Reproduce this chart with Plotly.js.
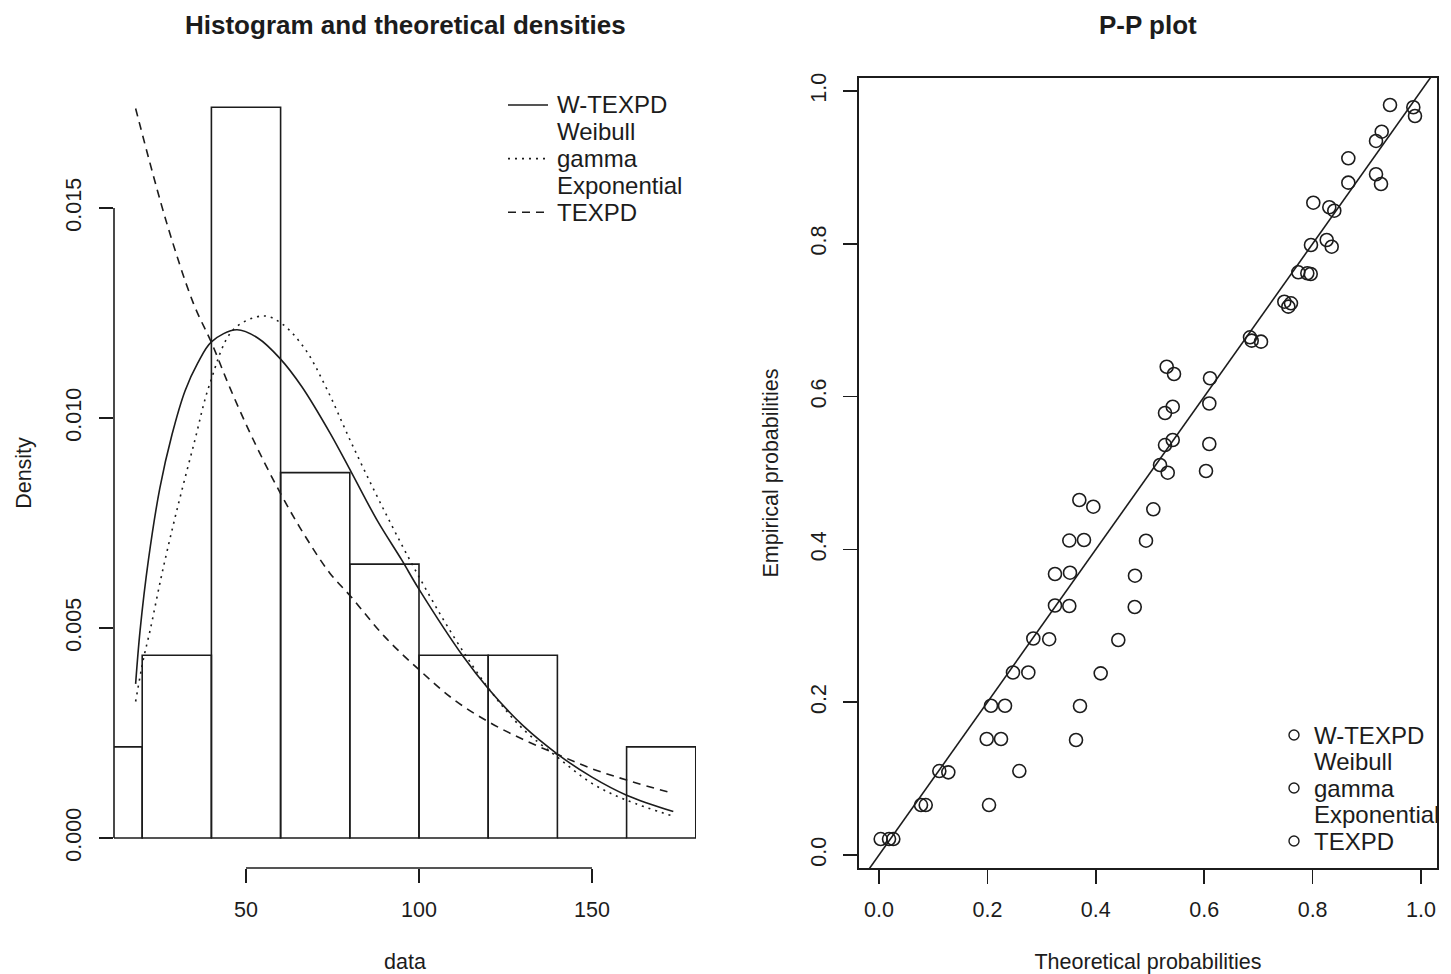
<!DOCTYPE html>
<html>
<head>
<meta charset="utf-8">
<script src="https://cdn.plot.ly/plotly-3.0.1.min.js"></script>
<style>html,body{margin:0;padding:0;background:#fff}#chart{width:1451px;height:974px}</style>
</head>
<body>
<div id="chart"></div>
<script>
// ---------------- data ----------------
// histogram (bin width 20)
const binMids = [10, 30, 50, 70, 90, 110, 130, 150, 170];
const binWidth = 20;
const binDensity = [0.00217, 0.00435, 0.0174, 0.0087, 0.00652, 0.00435, 0.00435, 0, 0.00217];

// fitted densities
const wtexpdX = [18.1, 19.4, 21.8, 25.1, 28.6, 32.4, 36.0, 40.1, 47.3, 53.5, 59.8, 66.1, 74.3, 80.5, 88.0, 95.0, 99.8, 112.8, 120.0, 130.0, 140.3, 150.0, 160.0, 173.5];
const wtexpdY = [0.00367, 0.00495, 0.00662, 0.00833, 0.00960, 0.01065, 0.0113, 0.01182, 0.01210, 0.01190, 0.01142, 0.01075, 0.00964, 0.0087, 0.00755, 0.00662, 0.00595, 0.00432, 0.00356, 0.00268, 0.00198, 0.00145, 0.00102, 0.00063];

const gammaX = [18.1, 20.3, 22.3, 25.1, 26.6, 30.0, 35.0, 39.6, 46.3, 55.0, 60.3, 67.0, 73.3, 80.5, 88.7, 98.4, 110.0, 120.5, 130.0, 139.8, 150.0, 160.0, 173.5];
const gammaY = [0.00325, 0.00424, 0.00495, 0.00606, 0.00662, 0.0078, 0.0094, 0.01083, 0.0121, 0.01243, 0.01225, 0.01165, 0.0107, 0.0094, 0.0080, 0.00646, 0.0048, 0.00352, 0.0026, 0.00194, 0.0013, 0.0009, 0.00052];

const texpdX = [18.1, 27.1, 34.8, 40.1, 45.4, 52.0, 60.0, 67.0, 74.3, 80.3, 90.0, 100.1, 110.0, 120.0, 130.0, 140.3, 150.0, 160.0, 173.5];
const texpdY = [0.01737, 0.01464, 0.01273, 0.01178, 0.01071, 0.0095, 0.0082, 0.0072, 0.0063, 0.00575, 0.0048, 0.004, 0.0033, 0.00277, 0.00235, 0.00198, 0.00165, 0.00138, 0.00106];

// P-P plot points (theoretical, empirical)
const ppWtexpdX = [0.0031, 0.0775, 0.1113, 0.1987, 0.2066, 0.2472, 0.2847, 0.3247, 0.3247, 0.3511, 0.3696, 0.5185, 0.5277, 0.5277, 0.5308, 0.6876, 0.7552, 0.7902, 0.8260, 0.8308, 0.9170, 0.9170, 0.9858];
const ppWtexpdY = [0.0209, 0.0654, 0.1099, 0.1518, 0.1954, 0.2389, 0.2834, 0.3266, 0.3678, 0.4116, 0.4647, 0.5105, 0.5366, 0.5785, 0.6391, 0.6732, 0.7177, 0.7614, 0.8050, 0.8478, 0.8910, 0.9346, 0.9787];
const ppGammaX = [0.0185, 0.0862, 0.1279, 0.2251, 0.2325, 0.2755, 0.3140, 0.3511, 0.3524, 0.3782, 0.3954, 0.5327, 0.5419, 0.5419, 0.5443, 0.7048, 0.7601, 0.7965, 0.8352, 0.8400, 0.9262, 0.9275, 0.9889];
const ppGammaY = [0.0209, 0.0654, 0.1082, 0.1518, 0.1954, 0.2389, 0.2825, 0.3259, 0.3695, 0.4123, 0.4559, 0.5004, 0.5432, 0.5868, 0.6296, 0.6719, 0.7221, 0.7605, 0.7962, 0.8433, 0.8783, 0.9467, 0.9673];
const ppTexpdX = [0.0264, 0.2030, 0.2589, 0.3635, 0.3708, 0.4090, 0.4415, 0.4718, 0.4723, 0.4926, 0.5061, 0.6033, 0.6094, 0.6094, 0.6107, 0.6845, 0.7478, 0.7736, 0.7970, 0.8013, 0.8659, 0.8659, 0.9428];
const ppTexpdY = [0.0209, 0.0654, 0.1099, 0.1505, 0.1950, 0.2378, 0.2814, 0.3246, 0.3656, 0.4114, 0.4525, 0.5026, 0.5380, 0.5910, 0.6240, 0.6776, 0.7242, 0.7627, 0.7984, 0.8538, 0.8800, 0.9119, 0.9817];
const refLine = [-0.1, 1.1];

// ticks & labels
const histTicksX = [50, 100, 150];
const histTicksY = [0, 0.005, 0.010, 0.015];
const ppTicks = [0, 0.2, 0.4, 0.6, 0.8, 1.0];
const legendLabels = ['W-TEXPD', 'Weibull', 'gamma', 'Exponential', 'TEXPD'];
const legendDrawn = [true, false, true, false, true];
const legendDash = ['solid', null, '2px,5px', null, '8px,6px'];
const titles = ['Histogram and theoretical densities', 'P-P plot'];

// ---------------- styling ----------------
const FONT = '"Liberation Sans", Arial, Helvetica, sans-serif';
const INK = '#1c1c1c';
const LW = 1.6;
const LEGFS = 24;
const W = 1451, H = 974, ML = 114, MR = 14, MT = 78, MB = 106;
const PW = W - ML - MR, PH = H - MT - MB;
const px2x = p => (p - ML) / PW;
const py2y = p => (H - MB - p) / PH;

const traces = [
  {type: 'bar', x: binMids, y: binDensity, width: binWidth, xaxis: 'x', yaxis: 'y',
   marker: {color: 'rgba(0,0,0,0)', line: {color: INK, width: LW}}, hoverinfo: 'skip'},
  {type: 'scatter', mode: 'lines', x: wtexpdX, y: wtexpdY, name: legendLabels[0], xaxis: 'x', yaxis: 'y',
   line: {color: INK, width: LW, shape: 'spline', smoothing: 1}},
  {type: 'scatter', mode: 'lines', x: gammaX, y: gammaY, name: legendLabels[2], xaxis: 'x', yaxis: 'y',
   line: {color: INK, width: LW, dash: legendDash[2], shape: 'spline', smoothing: 1}},
  {type: 'scatter', mode: 'lines', x: texpdX, y: texpdY, name: legendLabels[4], xaxis: 'x', yaxis: 'y',
   line: {color: INK, width: LW, dash: legendDash[4], shape: 'spline', smoothing: 1}},
  {type: 'scatter', mode: 'lines', x: refLine, y: refLine, xaxis: 'x2', yaxis: 'y2',
   line: {color: INK, width: LW}, hoverinfo: 'skip'},
];
const ppSets = [[ppWtexpdX, ppWtexpdY, legendLabels[0]], [ppGammaX, ppGammaY, legendLabels[2]], [ppTexpdX, ppTexpdY, legendLabels[4]]];
ppSets.forEach(([x, y, n]) => traces.push({
  type: 'scatter', mode: 'markers', x: x, y: y, name: n, xaxis: 'x2', yaxis: 'y2', cliponaxis: false,
  marker: {symbol: 'circle-open', size: 13, color: INK, line: {color: INK, width: LW}}
}));

const axBase = {
  showgrid: false, zeroline: false, ticks: 'outside', ticklen: 14, tickwidth: LW, tickcolor: INK,
  tickfont: {family: FONT, size: 21.5, color: INK}, fixedrange: true
};

const shapes = [];
const annotations = [];

// R-style axis lines (only from first to last tick) for the histogram panel
shapes.push({type: 'line', xref: 'x', yref: 'paper', x0: histTicksX[0], x1: histTicksX[histTicksX.length - 1], y0: 0, y1: 0, line: {color: INK, width: LW}});
shapes.push({type: 'line', xref: 'paper', yref: 'y', x0: 0, x1: 0, y0: histTicksY[0], y1: histTicksY[histTicksY.length - 1], line: {color: INK, width: LW}});

// titles
annotations.push({xref: 'x domain', yref: 'paper', x: 0.5, y: 1, yanchor: 'middle', yshift: 53, showarrow: false,
  text: '<b>' + titles[0] + '</b>', font: {family: FONT, size: 26, color: INK}});
annotations.push({xref: 'x2 domain', yref: 'paper', x: 0.5, y: 1, yanchor: 'middle', yshift: 53, showarrow: false,
  text: '<b>' + titles[1] + '</b>', font: {family: FONT, size: 26, color: INK}});

// legends
legendLabels.forEach((lab, i) => {
  const yL = 105 + i * 26.8;
  if (legendDrawn[i]) {
    shapes.push({type: 'line', xref: 'paper', yref: 'paper', x0: px2x(508), x1: px2x(548), y0: py2y(yL), y1: py2y(yL),
      line: {color: INK, width: LW, dash: legendDash[i]}});
  }
  annotations.push({xref: 'paper', yref: 'paper', x: px2x(555), y: py2y(yL), xanchor: 'left', yanchor: 'middle',
    showarrow: false, text: lab, font: {family: FONT, size: LEGFS, color: INK}});
  const yR = 735 + i * 26.5;
  if (legendDrawn[i]) {
    shapes.push({type: 'circle', xref: 'paper', yref: 'paper', xsizemode: 'pixel', ysizemode: 'pixel',
      xanchor: px2x(1294), yanchor: py2y(yR), x0: -5, x1: 5, y0: -5, y1: 5, line: {color: INK, width: LW - 0.2}});
  }
  annotations.push({xref: 'paper', yref: 'paper', x: px2x(1312), y: py2y(yR), xanchor: 'left', yanchor: 'middle',
    showarrow: false, text: lab, font: {family: FONT, size: LEGFS, color: INK}});
});

const layout = {
  width: W, height: H, margin: {l: ML, r: MR, t: MT, b: MB, pad: 0},
  paper_bgcolor: '#fff', plot_bgcolor: '#fff', showlegend: false, hovermode: false,
  font: {family: FONT, size: 21.5, color: INK},
  xaxis: Object.assign({}, axBase, {domain: [0, px2x(696)], anchor: 'y', range: [11.85, 180.06],
    tickvals: histTicksX, ticklabelstandoff: 8, showline: false,
    title: {text: 'data', standoff: 39, font: {family: FONT, size: 21.5, color: INK}}}),
  yaxis: Object.assign({}, axBase, {domain: [0, 1], anchor: 'x', range: [-0.000714, 0.018095],
    tickvals: histTicksY, tickformat: '.3f', tickangle: -90, ticklabelstandoff: 9, showline: false,
    title: {text: 'Density', standoff: 24, font: {family: FONT, size: 21.5, color: INK}}}),
  xaxis2: Object.assign({}, axBase, {domain: [px2x(859), 1], anchor: 'y2', range: [-0.0369, 1.0295],
    tickvals: ppTicks, tickformat: '.1f', ticklabelstandoff: 8, showline: true, mirror: true, linecolor: INK, linewidth: LW,
    title: {text: 'Theoretical probabilities', standoff: 39, font: {family: FONT, size: 21.5, color: INK}}}),
  yaxis2: Object.assign({}, axBase, {domain: [0, 1], anchor: 'x2', range: [-0.017, 1.017],
    tickvals: ppTicks, tickformat: '.1f', tickangle: -90, ticklabelstandoff: 9, showline: true, mirror: true, linecolor: INK, linewidth: LW,
    title: {text: 'Empirical probabilities', standoff: 22, font: {family: FONT, size: 21.5, color: INK}}}),
  shapes: shapes,
  annotations: annotations
};

Plotly.newPlot('chart', traces, layout, {displayModeBar: false, staticPlot: true});
</script>
</body>
</html>
